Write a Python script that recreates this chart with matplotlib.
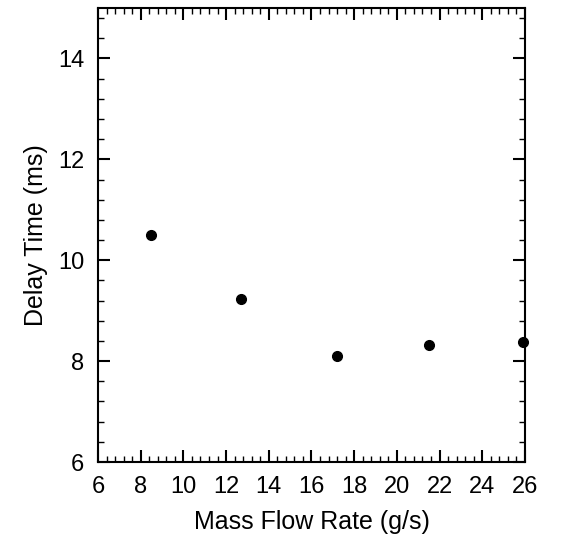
import matplotlib.pyplot as plt
from matplotlib.ticker import MultipleLocator

plt.rcParams['font.family'] = ['Liberation Sans', 'DejaVu Sans']

mass_flow = [8.5, 12.7, 17.2, 21.5, 25.9]
delay_time = [10.5, 9.24, 8.11, 8.32, 8.37]

fig = plt.figure(figsize=(5.65, 5.46), dpi=100)
ax = fig.add_axes([0.1735, 0.1538, 0.7555, 0.8315])

ax.plot(mass_flow, delay_time, 'o', color='black', markersize=7, clip_on=False)

ax.set_xlim(6, 26)
ax.set_ylim(6, 15)
ax.xaxis.set_major_locator(MultipleLocator(2))
ax.xaxis.set_minor_locator(MultipleLocator(0.4))
ax.yaxis.set_major_locator(MultipleLocator(2))
ax.yaxis.set_minor_locator(MultipleLocator(0.4))

ax.tick_params(which='both', direction='in', top=True, right=True, labelsize=17, pad=10)
ax.tick_params(which='major', length=8.5, width=1.5)
ax.tick_params(which='minor', length=4, width=1)
for s in ax.spines.values():
    s.set_linewidth(1.5)

ax.set_xlabel('Mass Flow Rate (g/s)', fontsize=18, labelpad=9)
ax.set_ylabel('Delay Time (ms)', fontsize=18, labelpad=7)

fig.savefig('out.png', dpi=100)
